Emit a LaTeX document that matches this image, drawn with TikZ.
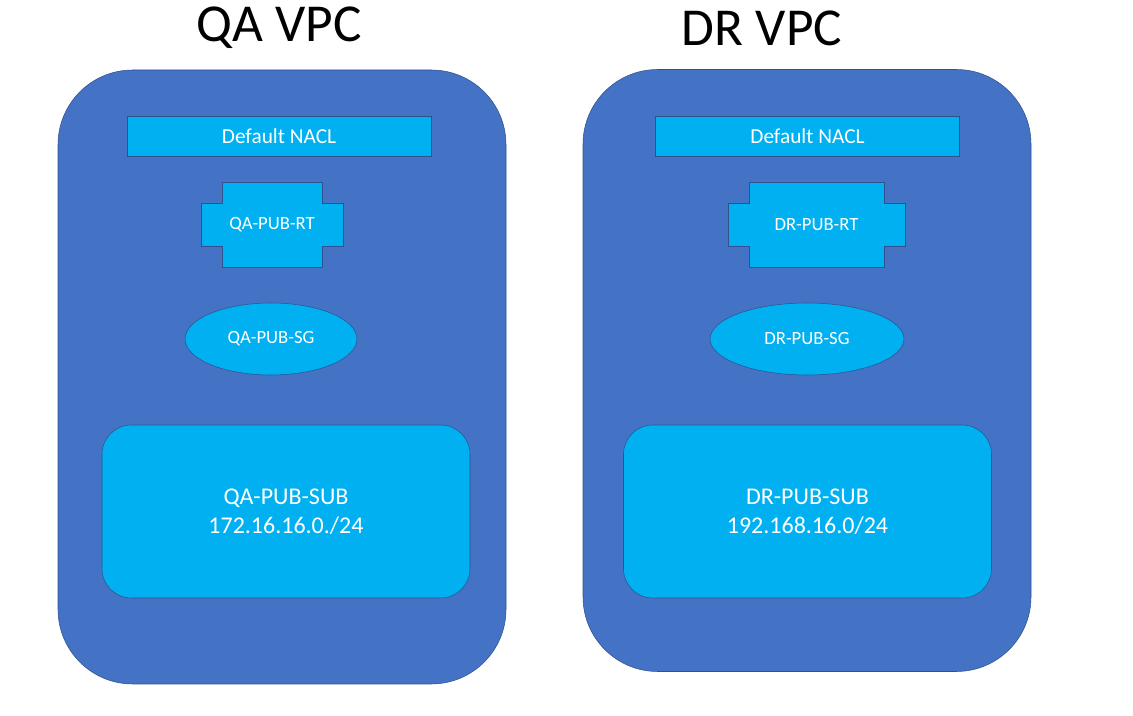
\documentclass[tikz,border=0pt]{standalone}
\usepackage{fontspec}
\setmainfont{Carlito}
\usetikzlibrary{shapes,positioning}
\definecolor{vpcblue}{HTML}{4472C4}
\definecolor{vpcedge}{HTML}{2F528F}
\definecolor{netcyan}{HTML}{00B0F0}

% route table outline: centre x, centre y, half width of the middle block
\newcommand{\rtoutline}[3]{%
  \draw[rtpart] (#1,#2) ++(-#3,-42.5) -- ++(2*#3,0) -- ++(0,21) -- ++(21,0)
    -- ++(0,43) -- ++(-21,0) -- ++(0,21.5) -- ++(-2*#3,0) -- ++(0,-21.5)
    -- ++(-21,0) -- ++(0,-43) -- ++(21,0) -- cycle;}

\begin{document}
\begin{tikzpicture}[x=0.75pt,y=-0.75pt,
    vpc/.style={draw=vpcedge,fill=vpcblue,rounded corners=56pt,inner sep=0pt,minimum width=336pt},
    rtpart/.style={draw=vpcedge,fill=netcyan},
    part/.style={draw=vpcedge,fill=netcyan,text=white,inner sep=0pt},
    nacl/.style={part,rectangle,minimum width=228pt,minimum height=30pt,font=\fontsize{16}{19}\selectfont},
    sg/.style={part,ellipse,minimum height=54pt,font=\fontsize{14}{17}\selectfont},
    subnet/.style={part,rounded corners=22pt,minimum width=276pt,minimum height=129.75pt,align=center,font=\fontsize{18}{21.75}\selectfont},
    title/.style={font=\fontsize{40}{48}\selectfont}]
  \useasboundingbox (0,0) rectangle (1133,716);

  % QA side
  \node[title] (qatitle) at (279,28) {QA VPC};
  \node[vpc,minimum height=460.5pt] (qavpc) at (282,377) {};
  \node[nacl] (qanacl) at (279,136) {};
  \node[text=white,font=\fontsize{16}{19}\selectfont] at (qanacl) {Default NACL};
  \rtoutline{272}{224.5}{50}
  \node[text=white,font=\fontsize{14}{17}\selectfont] (qart) at (272,224.5) {QA-PUB-RT};
  \node[sg,minimum width=129pt] (qasg) at (271,339) {QA-PUB-SG};
  \node[subnet] (qasub) at (286,511.5) {QA-PUB-SUB\\172.16.16.0./24};

  % DR side
  \node[title] (drtitle) at (762,28) {DR VPC};
  \node[vpc,minimum height=451.5pt] (drvpc) at (807,370.5) {};
  \node[nacl] (drnacl) at (807.5,136) {};
  \node[text=white,font=\fontsize{16}{19}\selectfont] at (drnacl) {Default NACL};
  \rtoutline{816.5}{224.5}{67.5}
  \node[text=white,font=\fontsize{14}{17}\selectfont] (drrt) at (816.5,224.5) {DR-PUB-RT};
  \node[sg,minimum width=145.5pt] (drsg) at (807,339) {DR-PUB-SG};
  \node[subnet] (drsub) at (807.5,511.5) {DR-PUB-SUB\\192.168.16.0/24};
\end{tikzpicture}
\end{document}
